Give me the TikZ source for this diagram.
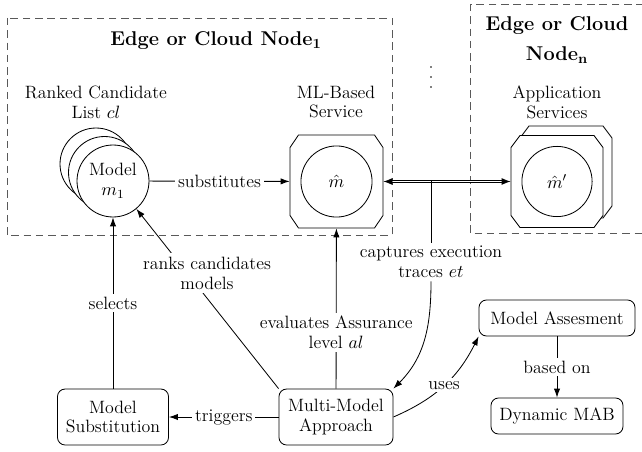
\RequirePackage{fix-cm}
\documentclass[tikz,border=0pt]{standalone}
\usetikzlibrary{arrows.meta}
\begin{document}
\begin{tikzpicture}[x=0.6667pt,y=0.6667pt, line width=0.55pt,
  every node/.style={font=\fontsize{11.9}{13.3}\selectfont, align=center},
  ttl/.style={font=\fontsize{13.3}{20}\selectfont\bfseries, align=center},
  rbox/.style={draw, rounded corners=5pt, inner sep=2pt, fill=white},
  octshape/.style={draw, fill=white},
  octnode/.style={draw=none, minimum width=62pt, minimum height=62pt, inner sep=0pt},
  mc/.style={circle, draw, fill=white, minimum size=48pt, inner sep=0pt},
  arr/.style={-{Latex[length=6pt,width=4.2pt]}},
  dbl/.style={double, double distance=1.3pt, {Latex[length=6pt,width=4.6pt]}-{Latex[length=6pt,width=4.6pt]}},
  lbl/.style={fill=white, inner sep=2pt},
  dashbox/.style={draw=black!65, line width=0.5pt, dash pattern=on 5pt off 3.2pt}]
\useasboundingbox (0,0) rectangle (642,451);
% dashed boxes
\draw[dashbox] (7,433) rectangle (392,216);
\draw[dashbox] (470,447) rectangle (660,218);
% dots
\fill (431,384) circle (0.6pt);
\fill (431,374) circle (0.6pt);
\fill (431,364) circle (0.6pt);
% titles and captions
\node[ttl] (t1) at (216,410) {Edge or Cloud Node\textsubscript{1}};
\node[ttl] (tn) at (557,411) {Edge or Cloud\\Node\textsubscript{n}};
\node (rcl) at (96,349) {Ranked Candidate\\List $cl$};
\node (mls) at (336,349) {ML-Based\\Service};
\node (aps) at (557,349) {Application\\Services};
% candidate models
\node[mc] (m1c) at (96,287) {};
\node[mc] (m1b) at (104.5,278.5) {};
\node[mc] (m1) at (113,270) {Model\\$m_1$};
% ML-based service
\coordinate (svcpos) at (336.5,269.5);
\draw[octshape, shift={(svcpos)}] (-38,46.5) -- (38,46.5) -- (46.5,34) -- (46.5,-34) -- (38,-46.5) -- (-38,-46.5) -- (-46.5,-34) -- (-46.5,34) -- cycle;
\draw (svcpos) circle (23.7pt);
\node[octnode] (svc) at (svcpos) {$\hat{m}$};
% application services
\coordinate (appbpos) at (566,279);
\coordinate (apppos) at (557,269.5);
\draw[octshape, shift={(appbpos)}] (-37,46) -- (37,46) -- (46,34) -- (46,-34) -- (37,-46) -- (-37,-46) -- (-46,-34) -- (-46,34) -- cycle;
\draw[octshape, shift={(apppos)}] (-37,46) -- (37,46) -- (46,34) -- (46,-34) -- (37,-46) -- (-37,-46) -- (-46,-34) -- (-46,34) -- cycle;
\draw (apppos) circle (23.4pt);
\node[octnode, minimum width=61.3pt, minimum height=61.3pt] (app) at (apppos) {$\hat{m}'$};
% bottom boxes
\node[rbox, minimum width=74pt, minimum height=37.3pt] (ms) at (113,34) {Model\\Substitution};
\node[rbox, minimum width=76pt, minimum height=37.3pt] (mma) at (336,34) {Multi-Model\\Approach};
\node[rbox, minimum width=104pt, minimum height=24pt] (ma) at (557,133) {Model Assesment};
\node[rbox, minimum width=88pt, minimum height=24pt] (dm) at (557,35) {Dynamic MAB};
% connectors
\draw[arr] (m1) -- node[lbl] {substitutes} (svc);
\draw[arr] (ms) -- node[lbl] {selects} (m1);
\draw[arr] (mma.north west) -- (m1.-50);
\node[lbl, inner sep=2.5pt] (rk) at (207,178) {ranks candidates\\models};
\draw[arr] (mma) -- node[lbl, pos=0.35] {evaluates Assurance\\level $al$} (svc);
\draw[arr] (mma) -- node[lbl] {triggers} (ms);
\draw[dbl] (svc) -- coordinate[pos=0.375] (tap) (app);
\node[lbl] (cap) at (431,189) {captures execution\\traces $et$};
\draw (tap) -- (tap |- cap.north);
\draw[arr] (cap.south) to[out=-90,in=45] (mma.north east);
\draw[arr] (mma.east) to[bend right=20] node[lbl] {uses} (ma.south west);
\draw[arr] (ma) -- node[lbl] {based on} (dm);
\end{tikzpicture}
\end{document}
